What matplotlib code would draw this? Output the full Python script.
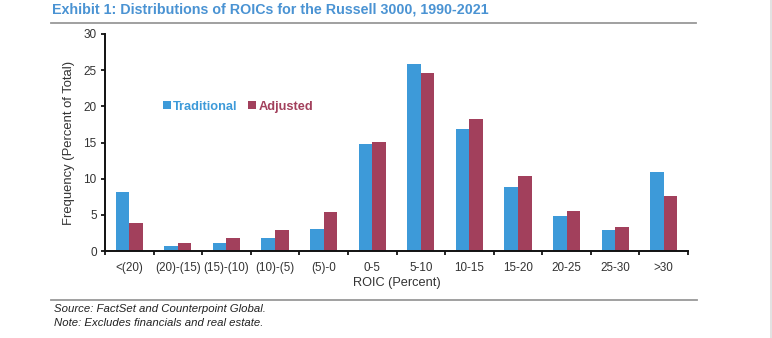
import matplotlib
matplotlib.use("Agg")
import matplotlib.pyplot as plt
import numpy as np
from matplotlib.lines import Line2D

plt.rcParams['font.family'] = ['Liberation Sans', 'DejaVu Sans']

categories = ["<(20)", "(20)-(15)", "(15)-(10)", "(10)-(5)", "(5)-0", "0-5",
              "5-10", "10-15", "15-20", "20-25", "25-30", ">30"]
traditional = [8.2, 0.75, 1.1, 1.75, 3.05, 14.85, 25.8, 16.9, 8.9, 4.8, 2.95, 10.9]
adjusted = [3.9, 1.15, 1.75, 2.85, 5.35, 15.1, 24.55, 18.3, 10.4, 5.5, 3.3, 7.65]
yticks = [0, 5, 10, 15, 20, 25, 30]

blue = "#3d9ad9"
red = "#a2405c"
title_blue = "#4a93d3"

W, H = 772, 338
fig = plt.figure(figsize=(W / 100, H / 100), dpi=100)

ax = fig.add_axes([105 / W, 1 - 251 / H, (688 - 105) / W, (251 - 34) / H])
x = np.arange(len(categories))
bw = 0.28
ax.bar(x - bw / 2, traditional, bw, color=blue, label="Traditional")
ax.bar(x + bw / 2, adjusted, bw, color=red, label="Adjusted")

ax.set_xlim(-0.5, len(categories) - 0.5)
ax.set_ylim(0, 30)
ax.set_yticks(yticks)
ax.set_yticklabels([str(t) for t in yticks], fontsize=8.5, color="#333333")
ax.set_xticks(np.arange(len(categories) + 1) - 0.5)
ax.set_xticklabels([])
ax.set_xticks(x, minor=True)
ax.set_xticklabels(categories, minor=True, fontsize=8.4, color="#333333")
ax.tick_params(axis="x", which="minor", length=0, pad=8)
ax.tick_params(axis="x", which="major", length=3, width=1.2, direction="out")
ax.tick_params(axis="y", length=3, width=1.2, direction="out", pad=3)
for s in ["top", "right"]:
    ax.spines[s].set_visible(False)
for s in ["left", "bottom"]:
    ax.spines[s].set_linewidth(1.4)
    ax.spines[s].set_color("#111111")

ax.set_ylabel("Frequency (Percent of Total)", fontsize=9.4, color="#333333", labelpad=6)
ax.set_xlabel("ROIC (Percent)", fontsize=9.2, color="#333333", labelpad=2)

# legend drawn as coloured squares with coloured bold labels
leg = ax.legend(loc="upper left", bbox_to_anchor=(0.08, 0.745), ncol=2, frameon=False,
                handlelength=0.6, handleheight=0.6, handletextpad=0.2,
                columnspacing=0.8, prop={"size": 9.2, "weight": "bold"})
for txt, col in zip(leg.get_texts(), [blue, red]):
    txt.set_color(col)

fig.text(52 / W, 1 - 10 / H, "Exhibit 1: Distributions of ROICs for the Russell 3000, 1990-2021",
         fontsize=10.3, fontweight="bold", color=title_blue, ha="left", va="center")
fig.add_artist(Line2D([51 / W, 696 / W], [1 - 22.5 / H, 1 - 22.5 / H],
                      color="#999999", lw=1.3, transform=fig.transFigure))
fig.add_artist(Line2D([51 / W, 697 / W], [1 - 300 / H, 1 - 300 / H],
                      color="#999999", lw=1.3, transform=fig.transFigure))
fig.text(54 / W, 1 - 309 / H, "Source: FactSet and Counterpoint Global.",
         fontsize=8.2, style="italic", color="#222222", ha="left", va="center")
fig.text(54 / W, 1 - 323 / H, "Note: Excludes financials and real estate.",
         fontsize=8.2, style="italic", color="#222222", ha="left", va="center")
fig.add_artist(Line2D([770.5 / W, 770.5 / W], [0, 1], color="#dddddd", lw=1.2,
                      transform=fig.transFigure))

fig.savefig("out.png", dpi=100)
